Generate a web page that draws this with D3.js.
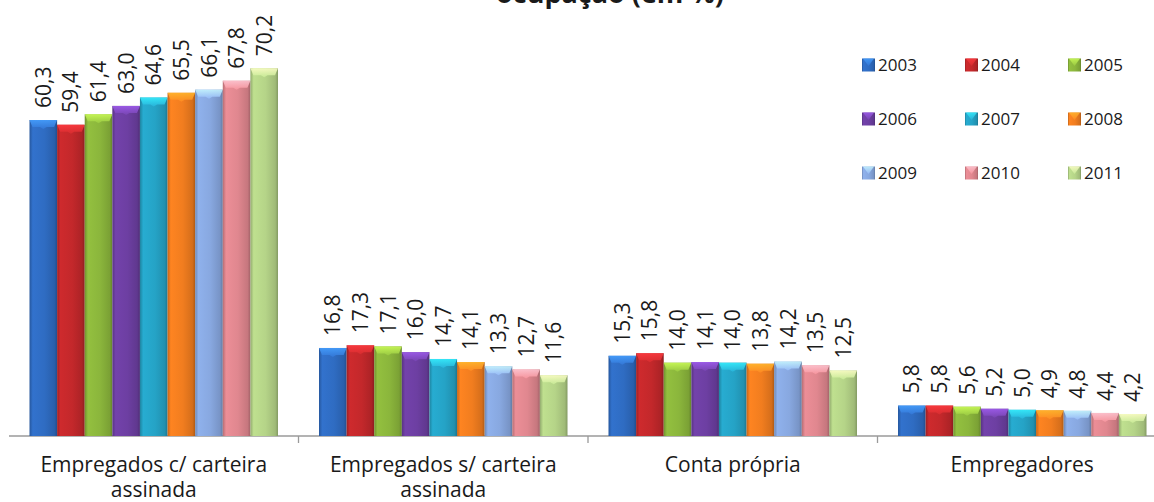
<!DOCTYPE html>
<html>
<head>
<meta charset="utf-8">
<script src="https://cdn.jsdelivr.net/npm/d3@7"></script>
<style>
  html, body { margin: 0; padding: 0; background: #ffffff; }
  svg { display: block; }
  text { font-family: "Open Sans", "DejaVu Sans", sans-serif; fill: #1a1a1a; }
</style>
</head>
<body>
<svg id="chart" width="1154" height="502"></svg>
<script>
// Posição na ocupação, 2003–2011 (em %)
const categories = [
  "Empregados c/ carteira assinada",
  "Empregados s/ carteira assinada",
  "Conta própria",
  "Empregadores"
];
const years = ["2003", "2004", "2005", "2006", "2007", "2008", "2009", "2010", "2011"];

// one array per category, values in year order
const comCarteira = [60.3, 59.4, 61.4, 63.0, 64.6, 65.5, 66.1, 67.8, 70.2];
const semCarteira = [16.8, 17.3, 17.1, 16.0, 14.7, 14.1, 13.3, 12.7, 11.6];
const contaPropria = [15.3, 15.8, 14.0, 14.1, 14.0, 13.8, 14.2, 13.5, 12.5];
const empregadores = [5.8, 5.8, 5.6, 5.2, 5.0, 4.9, 4.8, 4.4, 4.2];
const seriesByCategory = [comCarteira, semCarteira, contaPropria, empregadores];

const yearColors = ["#2f6cc2", "#c3282b", "#8bb63c", "#6d3fa2", "#25a3c6",
                    "#f17d1f", "#88a8e0", "#e0878f", "#b5d488"];

const svg = d3.select("#chart");
const W = 1154, H = 502;
const baseY = 436;

const x0 = d3.scaleBand().domain(categories).range([9, 1167]).padding(0);
const x1 = d3.scaleBand().domain(years).range([20.5, x0.bandwidth() - 20.5]).padding(0);
const y = d3.scaleLinear().domain([0, 80]).range([baseY, baseY - 80 * 5.24]);
const color = d3.scaleOrdinal().domain(years).range(yearColors);

// bevelled bar fills: dark edges, light core
const defs = svg.append("defs");
years.forEach((yr) => {
  const c = d3.color(color(yr));
  const g = defs.append("linearGradient").attr("id", "g" + yr)
    .attr("x1", "0").attr("x2", "1").attr("y1", "0").attr("y2", "0");
  g.append("stop").attr("offset", "0").attr("stop-color", c.darker(0.6));
  g.append("stop").attr("offset", "0.12").attr("stop-color", c.brighter(0.15));
  g.append("stop").attr("offset", "0.55").attr("stop-color", c);
  g.append("stop").attr("offset", "0.9").attr("stop-color", c.darker(0.35));
  g.append("stop").attr("offset", "1").attr("stop-color", c.darker(0.9));
  const t = defs.append("linearGradient").attr("id", "t" + yr)
    .attr("x1", "0").attr("x2", "0").attr("y1", "0").attr("y2", "1");
  t.append("stop").attr("offset", "0").attr("stop-color", c.brighter(1.1));
  t.append("stop").attr("offset", "1").attr("stop-color", c.brighter(0.3));
});

// title (only its lower part falls inside the frame)
svg.append("text")
  .attr("x", 610).attr("y", 3)
  .attr("text-anchor", "middle")
  .style("font-size", "27px").style("font-weight", "bold")
  .text("ocupação (em %)");

// axis baseline and category separators
const axis = d3.axisBottom(x0).tickSize(0).tickFormat("");
svg.append("g").attr("transform", `translate(0,${baseY})`).call(axis)
  .call(g => g.select(".domain").attr("stroke", "#9a9a9a").attr("stroke-width", 1.3)
    .attr("d", `M9,0H${W}`));
svg.append("g").selectAll("line")
  .data(categories.slice(1))
  .join("line")
  .attr("x1", d => x0(d)).attr("x2", d => x0(d))
  .attr("y1", baseY).attr("y2", baseY + 7)
  .attr("stroke", "#9a9a9a").attr("stroke-width", 1.3);

// bars
const groups = svg.append("g").selectAll("g")
  .data(categories.map((c, i) => ({ cat: c, values: seriesByCategory[i] })))
  .join("g")
  .attr("transform", d => `translate(${x0(d.cat)},0)`);

const bars = groups.selectAll("g.bar")
  .data(d => d.values.map((v, j) => ({ year: years[j], value: v })))
  .join("g").attr("class", "bar");

bars.append("rect")
  .attr("x", d => x1(d.year))
  .attr("y", d => y(d.value))
  .attr("width", x1.bandwidth())
  .attr("height", d => baseY - y(d.value))
  .attr("fill", d => `url(#g${d.year})`);

// top bevel with the V-shaped highlight
bars.append("path")
  .attr("d", d => {
    const xl = x1(d.year), w = x1.bandwidth(), yt = y(d.value), h = 7;
    return `M${xl},${yt}H${xl + w}L${xl + w - 3},${yt + h}H${xl + w * 0.62}` +
           `L${xl + w / 2},${yt + h + 2}L${xl + w * 0.38},${yt + h}H${xl + 3}Z`;
  })
  .attr("fill", d => `url(#t${d.year})`)
  .attr("opacity", 0.85);

// value labels, rotated
bars.append("text")
  .attr("transform", d => `translate(${x1(d.year) + x1.bandwidth() / 2},${y(d.value) - 12}) rotate(-90)`)
  .attr("dy", "0.36em")
  .style("font-size", "21px")
  .text(d => d.value.toFixed(1).replace(".", ","));

// category labels, wrapped to the band width
const catLabels = svg.append("g").selectAll("text")
  .data(categories)
  .join("text")
  .attr("x", d => x0(d) + x0.bandwidth() / 2)
  .attr("y", 472)
  .attr("text-anchor", "middle")
  .style("font-size", "21px");

catLabels.each(function (d) {
  const el = d3.select(this);
  const words = d.split(" ");
  const maxW = x0.bandwidth() - 40;
  let line = [];
  let tspan = el.append("tspan").attr("x", el.attr("x")).attr("dy", 0);
  words.forEach(w => {
    line.push(w);
    tspan.text(line.join(" "));
    if (tspan.node().getComputedTextLength() > maxW && line.length > 1) {
      line.pop();
      tspan.text(line.join(" "));
      line = [w];
      tspan = el.append("tspan").attr("x", el.attr("x")).attr("dy", 25).text(w);
    }
  });
});

// legend: 3 x 3 grid
const legend = svg.append("g").selectAll("g")
  .data(years)
  .join("g")
  .attr("transform", (d, i) => `translate(${862 + (i % 3) * 103},${65 + Math.floor(i / 3) * 54})`);
legend.append("rect")
  .attr("x", 0).attr("y", -6.5).attr("width", 13).attr("height", 13)
  .attr("fill", d => `url(#g${d})`);
legend.append("path")
  .attr("d", "M1,-6.5H12L8,-1L6.5,1L5,-1Z")
  .attr("fill", d => `url(#t${d})`).attr("opacity", 0.8);
legend.append("text")
  .attr("x", 16).attr("y", 0).attr("dy", "0.36em")
  .style("font-size", "17px")
  .text(d => d);
</script>
</body>
</html>
